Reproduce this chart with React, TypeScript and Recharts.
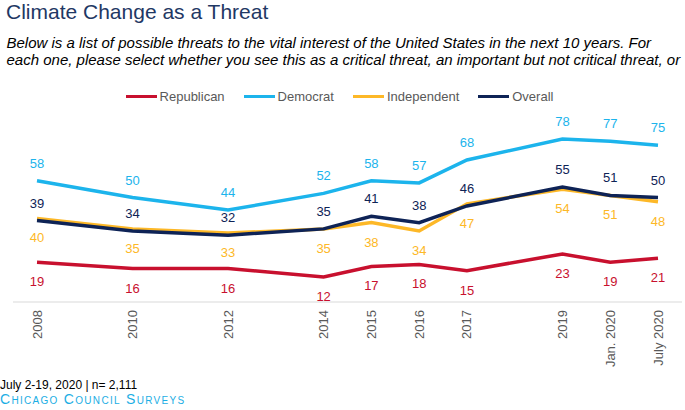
import React from 'react'
import { LineChart, Line, XAxis, YAxis, Legend } from 'recharts'

const categories = ['2008', '2009', '2010', '2011', '2012', '2013', '2014', '2015', '2016', '2017', '2018', '2019', 'Jan2020', 'Jul2020']
const tickLabels = ['2008', '', '2010', '', '2012', '', '2014', '2015', '2016', '2017', '', '2019', 'Jan. 2020', 'July 2020']

const republican = [19, null, 16, null, 16, null, 12, 17, 18, 15, null, 23, 19, 21]
const democrat = [58, null, 50, null, 44, null, 52, 58, 57, 68, null, 78, 77, 75]
const independent = [40, null, 35, null, 33, null, 35, 38, 34, 47, null, 54, 51, 48]
const overall = [39, null, 34, null, 32, null, 35, 41, 38, 46, null, 55, 51, 50]

const data = categories.map((key, i) => ({
  key,
  republican: republican[i],
  democrat: democrat[i],
  independent: independent[i],
  overall: overall[i],
}))

const FONT = '"Liberation Sans", Arial, sans-serif'

const series = [
  { key: 'republican', name: 'Republican', color: '#C8102E', pos: 'bottom' },
  { key: 'democrat', name: 'Democrat', color: '#1CB4EC', pos: 'top' },
  { key: 'independent', name: 'Independent', color: '#FDB827', pos: 'bottom' },
  { key: 'overall', name: 'Overall', color: '#0E2356', pos: 'top' },
]

// value labels: above the line for Democrat/Overall, below for the others
const makeLabel = (color: string, pos: string) => (props: any) => {
  const { x, y, value, index } = props
  if (value == null) return null
  const ty = pos === 'top' ? y - 13 : y + 24
  return (
    <text key={index} x={x} y={ty} textAnchor="middle" fill={color} fontSize={13} fontFamily={FONT}>
      {value}
    </text>
  )
}

const YearTick = (props: any) => {
  const { x, y, index } = props
  const label = tickLabels[index]
  if (!label) return null
  return (
    <text
      transform={`translate(${x},${y}) rotate(-90)`}
      textAnchor="end"
      dy="0.35em"
      fill="#595959"
      fontSize={13}
      fontFamily={FONT}
    >
      {label}
    </text>
  )
}

const renderLegend = () => (
  <div
    style={{
      height: 30,
      width: 685,
      display: 'flex',
      justifyContent: 'center',
      alignItems: 'flex-start',
      paddingTop: 5,
      paddingRight: 6,
      boxSizing: 'border-box',
      fontFamily: FONT,
      fontSize: 13,
      color: '#595959',
    }}
  >
    {series.map((s, i) => (
      <div key={s.key} style={{ display: 'flex', alignItems: 'center', marginLeft: i === 0 ? 0 : 19, height: 14 }}>
        <div style={{ width: 31, height: 3, background: s.color, marginRight: 3 }} />
        <span>{s.name}</span>
      </div>
    ))}
  </div>
)

export default function App() {
  return (
    <div style={{ position: 'absolute', left: 0, top: 0, width: 685, height: 410, background: '#fff', fontFamily: FONT, overflow: 'hidden' }}>
      <div style={{ position: 'absolute', left: 6, top: 0, fontSize: 21, color: '#1F3864', lineHeight: '24px', whiteSpace: 'nowrap' }}>
        Climate Change as a Threat
      </div>
      <div style={{ position: 'absolute', left: 6.5, top: 34, fontSize: 15, fontStyle: 'italic', color: '#000', lineHeight: '17px', whiteSpace: 'nowrap' }}>
        <div>Below is a list of possible threats to the vital interest of the United States in the next 10 years. For</div>
        <div>each one, please select whether you see this as a critical threat, an important but not critical threat, or</div>
      </div>
      <div style={{ position: 'absolute', left: 0, top: 84 }}>
        <LineChart width={685} height={288} data={data} margin={{ top: 0, right: 3, bottom: 0, left: 13 }}>
          <Legend verticalAlign="top" content={renderLegend} wrapperStyle={{ left: 0, top: 0, width: 685 }} />
          <XAxis
            dataKey="key"
            interval={0}
            tickLine={false}
            axisLine={{ stroke: '#d9d9d9' }}
            height={70}
            padding={{ left: 24, right: 24 }}
            tick={<YearTick />}
          />
          <YAxis hide domain={[0, 90]} />
          {series.map((s) => (
            <Line
              key={s.key}
              type="linear"
              dataKey={s.key}
              name={s.name}
              stroke={s.color}
              strokeWidth={3.5}
              dot={false}
              connectNulls
              isAnimationActive={false}
              label={makeLabel(s.color, s.pos)}
            />
          ))}
        </LineChart>
      </div>
      <div style={{ position: 'absolute', left: 0, top: 378, fontSize: 12, color: '#000', lineHeight: '14px', whiteSpace: 'nowrap' }}>
        July 2-19, 2020 | n= 2,111
      </div>
      <div style={{ position: 'absolute', left: 0, top: 392, fontSize: 14, color: '#1CAEE4', lineHeight: '15px', whiteSpace: 'nowrap', fontVariant: 'small-caps', letterSpacing: 1.3 }}>
        Chicago Council Surveys
      </div>
    </div>
  )
}
